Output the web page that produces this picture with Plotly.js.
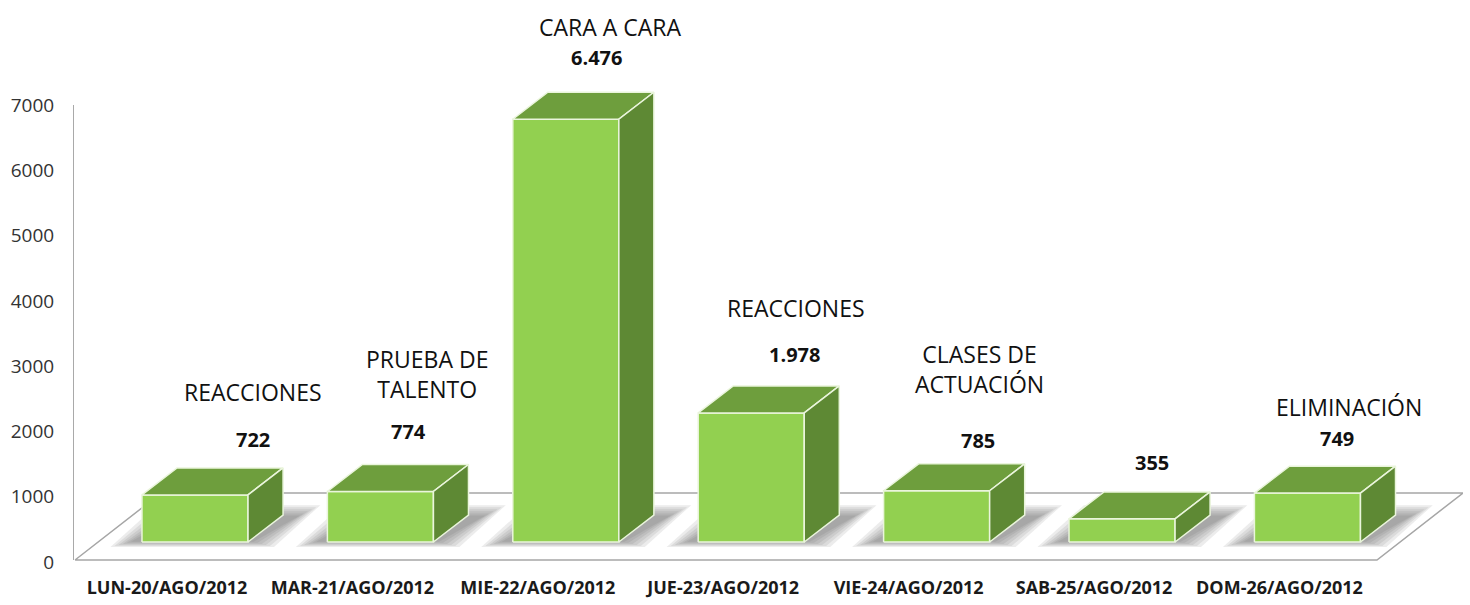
<!DOCTYPE html>
<html>
<head>
<meta charset="utf-8">
<script src="https://cdn.plot.ly/plotly-3.0.1.min.js"></script>
<style>html,body{margin:0;padding:0;background:#fff;}#chart{width:1470px;height:605px;}</style>
</head>
<body>
<div id="chart"></div>
<script>
// ---- data ----
var categories = ["LUN-20/AGO/2012","MAR-21/AGO/2012","MIE-22/AGO/2012","JUE-23/AGO/2012","VIE-24/AGO/2012","SAB-25/AGO/2012","DOM-26/AGO/2012"];
var values = [722, 774, 6476, 1978, 785, 355, 749];
var segmentNames = ["REACCIONES","PRUEBA DE<br>TALENTO","CARA A CARA","REACCIONES","CLASES DE<br>ACTUACIÓN","","ELIMINACIÓN"];
var yTickValues = [0,1000,2000,3000,4000,5000,6000,7000];

// ---- style / geometry (not data) ----
var FRONT = "#92D050", TOP = "#6E9E3D", SIDE = "#5E8934";
var halfW = 0.286;          // half bar width (category units)
var depthX = 0.189;         // 3D depth offset x (category units)
var depthY = 413;           // 3D depth offset y (value units)
var base = 306;             // bar base (value units)
var xRange = [-0.658, 6.839];
var yRange = [0, 8608];
// label offsets in px relative to front-top centre of each bar
var valShift  = [[58,-55],[28,-60],[31,-62],[43,-58],[41,-50],[30,-56],[30,-55]];
var nameShift = [[58,-103],[47,-117],[44,-92],[45,-105],[43,-122],[0,0],[42,-86]];

function fmt(v){ return String(v).replace(/\B(?=(\d{3})+(?!\d))/g, "."); }

var traces = [];
function poly(xs, ys, fill, line, lw){
  traces.push({type:"scatter", mode:"lines", x:xs.concat([xs[0]]), y:ys.concat([ys[0]]),
    fill:"toself", fillcolor:fill, line:{color:line, width:lw}, hoverinfo:"skip", showlegend:false});
}
// floor
poly([-0.647, 6.375, 6.839, -0.183],[31, 31, 1057, 1057], "#FFFFFF", "#A6A6A6", 1.5);
// shadows
values.forEach(function(v,i){
  for (var k=0;k<6;k++){
    var ins = k*0.022, insy = k*45;
    var f0 = 230 + insy*0.35, b0 = 870 - insy*0.7;
    poly([i-halfW-0.17+ins, i+halfW+0.14-ins, i+halfW+0.14+0.25-ins, i-halfW-0.17+0.25+ins],
         [f0, f0, b0, b0], "rgba(80,80,80,0.11)", "rgba(0,0,0,0)", 0);
  }
});
// bars
values.forEach(function(v,i){
  var t = base + v;
  poly([i-halfW, i+halfW, i+halfW, i-halfW],[base, base, t, t], FRONT, "#EAF5DC", 1.5);
  poly([i-halfW, i+halfW, i+halfW+depthX, i-halfW+depthX],[t, t, t+depthY, t+depthY], TOP, "#EAF5DC", 1.5);
  poly([i+halfW, i+halfW+depthX, i+halfW+depthX, i+halfW],[base, base+depthY, t+depthY, t], SIDE, "#EAF5DC", 1.5);
});

var annotations = [];
values.forEach(function(v,i){
  annotations.push({x:i, y:base+v, xref:"x", yref:"y", text:"<b>"+fmt(v)+"</b>", showarrow:false,
    xshift:valShift[i][0], yshift:-valShift[i][1], xanchor:"center", yanchor:"middle", borderpad:0,
    font:{family:"Open Sans", size:20, color:"#111"}});
  if (segmentNames[i]) annotations.push({x:i, y:base+v, xref:"x", yref:"y", text:segmentNames[i], showarrow:false,
    xshift:nameShift[i][0], yshift:-nameShift[i][1], xanchor:"center", yanchor:"middle", align:"center", borderpad:0,
    font:{family:"Open Sans", size:23, color:"#111"}});
});

var layout = {
  width:1470, height:605,
  margin:{l:73, r:7, t:0, b:43},
  paper_bgcolor:"#fff", plot_bgcolor:"#fff",
  showlegend:false,
  xaxis:{range:xRange, showgrid:false, zeroline:false, showline:false,
    tickvals:categories.map(function(c,i){return i-0.151;}), ticktext:categories,
    ticks:"outside", ticklen:9, tickcolor:"rgba(0,0,0,0)",
    tickfont:{family:"Open Sans", size:18, color:"#1a1a1a", weight:"bold"}, fixedrange:true},
  yaxis:{range:yRange, showgrid:false, zeroline:false, showline:false,
    tickvals:yTickValues, ticktext:yTickValues.map(String),
    ticks:"outside", ticklen:14, tickcolor:"rgba(0,0,0,0)",
    tickfont:{family:"Open Sans", size:19, color:"#333"}, fixedrange:true},
  shapes:[{type:"line", xref:"x", yref:"y", x0:xRange[0], x1:xRange[0], y0:31, y1:7000,
    line:{color:"#8C8C8C", width:1.5}}],
  annotations:annotations
};
Plotly.newPlot("chart", traces, layout, {displayModeBar:false, staticPlot:true});
</script>
</body>
</html>
